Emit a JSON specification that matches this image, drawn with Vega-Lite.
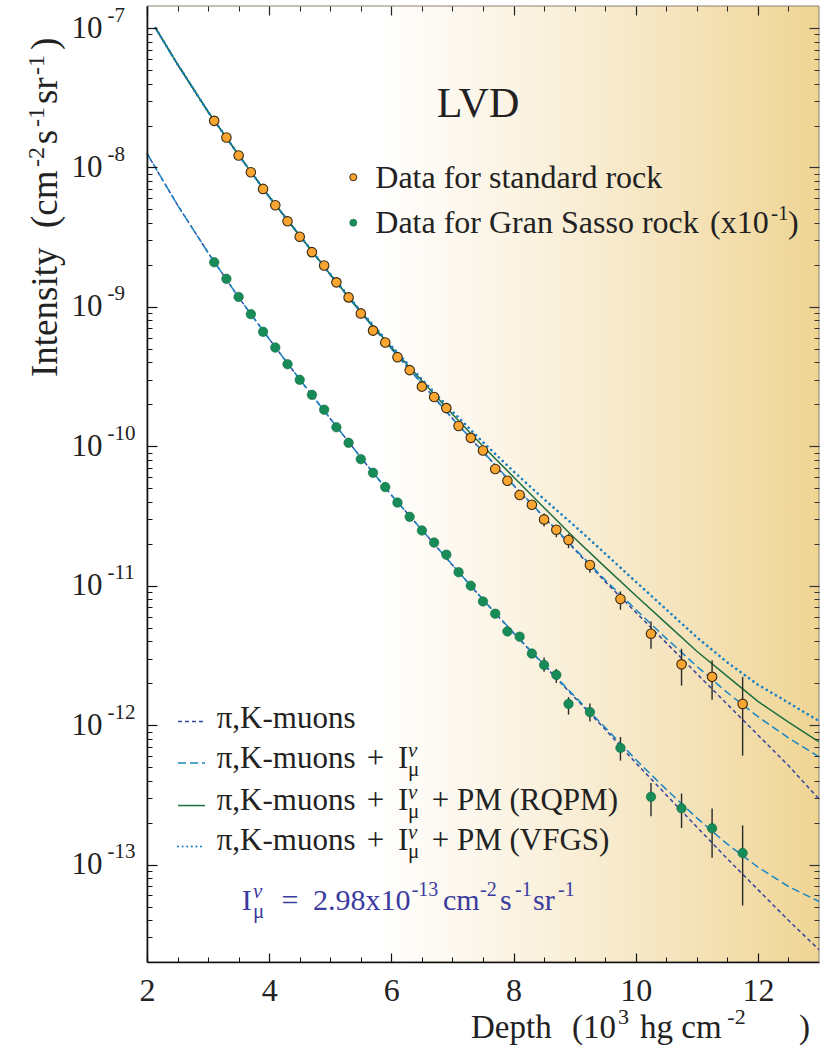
{
 "$schema": "https://vega.github.io/schema/vega-lite/v6.json",
 "width": 672, "height": 956,
 "autosize": {"type": "none"},
 "padding": {"left": 147, "top": 6, "right": 18, "bottom": 88},
 "background": "#ffffff",
 "config": {"view": {"stroke": null}, "font": "Liberation Serif", "text": {"font": "Liberation Serif", "color": "#222222", "align": "left", "baseline": "alphabetic", "fontSize": 31}, "axis": {"grid": false, "labelFont": "Liberation Serif", "titleFont": "Liberation Serif", "labelFlush": false, "labelOverlap": false, "labelBound": false}},
 "resolve": {"axis": {"x": "independent", "y": "independent"}},
 "datasets": {
  "points": [
   {"rock":"std","depth":3.1,"intensity":2.16e-8},{"rock":"std","depth":3.3,"intensity":1.64e-8},{"rock":"std","depth":3.5,"intensity":1.22e-8},{"rock":"std","depth":3.7,"intensity":9.25e-9},{"rock":"std","depth":3.9,"intensity":7.02e-9},{"rock":"std","depth":4.1,"intensity":5.36e-9},{"rock":"std","depth":4.3,"intensity":4.11e-9},{"rock":"std","depth":4.5,"intensity":3.19e-9},{"rock":"std","depth":4.7,"intensity":2.47e-9},{"rock":"std","depth":4.9,"intensity":1.98e-9},{"rock":"std","depth":5.1,"intensity":1.50e-9},{"rock":"std","depth":5.3,"intensity":1.17e-9},{"rock":"std","depth":5.5,"intensity":8.98e-10},{"rock":"std","depth":5.7,"intensity":6.76e-10},{"rock":"std","depth":5.9,"intensity":5.55e-10},{"rock":"std","depth":6.1,"intensity":4.36e-10},{"rock":"std","depth":6.3,"intensity":3.52e-10},{"rock":"std","depth":6.5,"intensity":2.68e-10},{"rock":"std","depth":6.7,"intensity":2.26e-10},{"rock":"std","depth":6.9,"intensity":1.88e-10},{"rock":"std","depth":7.1,"intensity":1.40e-10},{"rock":"std","depth":7.3,"intensity":1.15e-10},{"rock":"std","depth":7.5,"intensity":9.33e-11},{"rock":"std","depth":7.7,"intensity":6.87e-11},{"rock":"std","depth":7.9,"intensity":5.66e-11},{"rock":"std","depth":8.1,"intensity":4.47e-11},{"rock":"std","depth":8.3,"intensity":3.81e-11},
   {"rock":"std","depth":8.5,"intensity":2.99e-11,"lo":2.66e-11,"hi":3.30e-11},
   {"rock":"std","depth":8.7,"intensity":2.52e-11,"lo":2.23e-11,"hi":2.73e-11},
   {"rock":"std","depth":8.9,"intensity":2.13e-11,"lo":1.86e-11,"hi":2.36e-11},
   {"rock":"std","depth":9.25,"intensity":1.41e-11,"lo":1.24e-11,"hi":1.53e-11},
   {"rock":"std","depth":9.75,"intensity":8.03e-12,"lo":6.72e-12,"hi":9.10e-12},
   {"rock":"std","depth":10.25,"intensity":4.53e-12,"lo":3.53e-12,"hi":5.55e-12},
   {"rock":"std","depth":10.75,"intensity":2.73e-12,"lo":1.92e-12,"hi":3.53e-12},
   {"rock":"std","depth":11.25,"intensity":2.22e-12,"lo":1.52e-12,"hi":2.92e-12},
   {"rock":"std","depth":11.75,"intensity":1.42e-12,"lo":6.04e-13,"hi":2.22e-12},
   {"rock":"gs","depth":3.1,"intensity":2.09e-9},{"rock":"gs","depth":3.3,"intensity":1.59e-9},{"rock":"gs","depth":3.5,"intensity":1.18e-9},{"rock":"gs","depth":3.7,"intensity":8.87e-10},{"rock":"gs","depth":3.9,"intensity":6.63e-10},{"rock":"gs","depth":4.1,"intensity":5.11e-10},{"rock":"gs","depth":4.3,"intensity":3.88e-10},{"rock":"gs","depth":4.5,"intensity":3.00e-10},{"rock":"gs","depth":4.7,"intensity":2.34e-10},{"rock":"gs","depth":4.9,"intensity":1.83e-10},{"rock":"gs","depth":5.1,"intensity":1.37e-10},{"rock":"gs","depth":5.3,"intensity":1.06e-10},{"rock":"gs","depth":5.5,"intensity":8.09e-11},{"rock":"gs","depth":5.7,"intensity":6.46e-11},{"rock":"gs","depth":5.9,"intensity":5.10e-11},{"rock":"gs","depth":6.1,"intensity":3.95e-11},{"rock":"gs","depth":6.3,"intensity":3.12e-11},{"rock":"gs","depth":6.5,"intensity":2.49e-11},{"rock":"gs","depth":6.7,"intensity":2.04e-11},{"rock":"gs","depth":6.9,"intensity":1.67e-11},{"rock":"gs","depth":7.1,"intensity":1.25e-11},{"rock":"gs","depth":7.3,"intensity":1.00e-11},{"rock":"gs","depth":7.5,"intensity":7.71e-12},{"rock":"gs","depth":7.7,"intensity":6.30e-12},{"rock":"gs","depth":7.9,"intensity":4.70e-12},{"rock":"gs","depth":8.1,"intensity":4.31e-12},{"rock":"gs","depth":8.3,"intensity":3.26e-12},
   {"rock":"gs","depth":8.5,"intensity":2.70e-12,"lo":2.42e-12,"hi":3.05e-12},
   {"rock":"gs","depth":8.7,"intensity":2.29e-12,"lo":2.01e-12,"hi":2.53e-12},
   {"rock":"gs","depth":8.9,"intensity":1.42e-12,"lo":1.19e-12,"hi":1.59e-12},
   {"rock":"gs","depth":9.25,"intensity":1.24e-12,"lo":1.06e-12,"hi":1.43e-12},
   {"rock":"gs","depth":9.75,"intensity":6.87e-13,"lo":5.56e-13,"hi":8.22e-13},
   {"rock":"gs","depth":10.25,"intensity":3.06e-13,"lo":2.22e-13,"hi":3.85e-13},
   {"rock":"gs","depth":10.75,"intensity":2.53e-13,"lo":1.83e-13,"hi":3.23e-13},
   {"rock":"gs","depth":11.25,"intensity":1.82e-13,"lo":1.12e-13,"hi":2.52e-13},
   {"rock":"gs","depth":11.75,"intensity":1.21e-13,"lo":5.08e-14,"hi":1.91e-13}
  ],
  "curves": [
   {"model":"pk","rock":"std","depth":2.14,"intensity":1e-7},{"model":"pk","rock":"std","depth":2.5,"intensity":5.50e-8},{"model":"pk","rock":"std","depth":3.0,"intensity":2.51e-8},{"model":"pk","rock":"std","depth":3.5,"intensity":1.23e-8},{"model":"pk","rock":"std","depth":4.0,"intensity":6.17e-9},{"model":"pk","rock":"std","depth":4.5,"intensity":3.24e-9},{"model":"pk","rock":"std","depth":5.0,"intensity":1.70e-9},{"model":"pk","rock":"std","depth":5.5,"intensity":9.12e-10},{"model":"pk","rock":"std","depth":6.0,"intensity":5.01e-10},{"model":"pk","rock":"std","depth":6.5,"intensity":2.82e-10},{"model":"pk","rock":"std","depth":7.0,"intensity":1.58e-10},{"model":"pk","rock":"std","depth":7.5,"intensity":9.12e-11},{"model":"pk","rock":"std","depth":8.0,"intensity":5.25e-11},{"model":"pk","rock":"std","depth":8.5,"intensity":3.09e-11},{"model":"pk","rock":"std","depth":9.0,"intensity":1.82e-11},{"model":"pk","rock":"std","depth":9.5,"intensity":1.07e-11},{"model":"pk","rock":"std","depth":10.0,"intensity":6.46e-12},{"model":"pk","rock":"std","depth":10.5,"intensity":3.89e-12},{"model":"pk","rock":"std","depth":11.0,"intensity":2.34e-12},{"model":"pk","rock":"std","depth":11.5,"intensity":1.41e-12},{"model":"pk","rock":"std","depth":12.0,"intensity":8.51e-13},{"model":"pk","rock":"std","depth":12.5,"intensity":5.13e-13},{"model":"pk","rock":"std","depth":13.0,"intensity":2.95e-13},
   {"model":"pknu","rock":"std","depth":2.14,"intensity":1e-7},{"model":"pknu","rock":"std","depth":2.5,"intensity":5.50e-8},{"model":"pknu","rock":"std","depth":3.0,"intensity":2.51e-8},{"model":"pknu","rock":"std","depth":3.5,"intensity":1.23e-8},{"model":"pknu","rock":"std","depth":4.0,"intensity":6.17e-9},{"model":"pknu","rock":"std","depth":4.5,"intensity":3.24e-9},{"model":"pknu","rock":"std","depth":5.0,"intensity":1.70e-9},{"model":"pknu","rock":"std","depth":5.5,"intensity":9.12e-10},{"model":"pknu","rock":"std","depth":6.0,"intensity":5.01e-10},{"model":"pknu","rock":"std","depth":6.5,"intensity":2.82e-10},{"model":"pknu","rock":"std","depth":7.0,"intensity":1.58e-10},{"model":"pknu","rock":"std","depth":7.5,"intensity":9.15e-11},{"model":"pknu","rock":"std","depth":8.0,"intensity":5.28e-11},{"model":"pknu","rock":"std","depth":8.5,"intensity":3.12e-11},{"model":"pknu","rock":"std","depth":9.0,"intensity":1.85e-11},{"model":"pknu","rock":"std","depth":9.5,"intensity":1.10e-11},{"model":"pknu","rock":"std","depth":10.0,"intensity":6.76e-12},{"model":"pknu","rock":"std","depth":10.5,"intensity":4.19e-12},{"model":"pknu","rock":"std","depth":11.0,"intensity":2.64e-12},{"model":"pknu","rock":"std","depth":11.5,"intensity":1.71e-12},{"model":"pknu","rock":"std","depth":12.0,"intensity":1.15e-12},{"model":"pknu","rock":"std","depth":12.5,"intensity":8.11e-13},{"model":"pknu","rock":"std","depth":13.0,"intensity":5.93e-13},
   {"model":"rqpm","rock":"std","depth":2.14,"intensity":1e-7},{"model":"rqpm","rock":"std","depth":2.5,"intensity":5.50e-8},{"model":"rqpm","rock":"std","depth":3.0,"intensity":2.51e-8},{"model":"rqpm","rock":"std","depth":3.5,"intensity":1.23e-8},{"model":"rqpm","rock":"std","depth":4.0,"intensity":6.17e-9},{"model":"rqpm","rock":"std","depth":4.5,"intensity":3.25e-9},{"model":"rqpm","rock":"std","depth":5.0,"intensity":1.71e-9},{"model":"rqpm","rock":"std","depth":5.5,"intensity":9.23e-10},{"model":"rqpm","rock":"std","depth":6.0,"intensity":5.13e-10},{"model":"rqpm","rock":"std","depth":6.5,"intensity":2.95e-10},{"model":"rqpm","rock":"std","depth":7.0,"intensity":1.70e-10},{"model":"rqpm","rock":"std","depth":7.5,"intensity":1.00e-10},{"model":"rqpm","rock":"std","depth":8.0,"intensity":6.03e-11},{"model":"rqpm","rock":"std","depth":8.5,"intensity":3.63e-11},{"model":"rqpm","rock":"std","depth":9.0,"intensity":2.19e-11},{"model":"rqpm","rock":"std","depth":9.5,"intensity":1.36e-11},{"model":"rqpm","rock":"std","depth":10.0,"intensity":8.51e-12},{"model":"rqpm","rock":"std","depth":10.5,"intensity":5.37e-12},{"model":"rqpm","rock":"std","depth":11.0,"intensity":3.39e-12},{"model":"rqpm","rock":"std","depth":11.5,"intensity":2.24e-12},{"model":"rqpm","rock":"std","depth":12.0,"intensity":1.48e-12},{"model":"rqpm","rock":"std","depth":12.5,"intensity":1.05e-12},{"model":"rqpm","rock":"std","depth":13.0,"intensity":7.59e-13},
   {"model":"vfgs","rock":"std","depth":2.14,"intensity":1e-7},{"model":"vfgs","rock":"std","depth":2.5,"intensity":5.50e-8},{"model":"vfgs","rock":"std","depth":3.0,"intensity":2.51e-8},{"model":"vfgs","rock":"std","depth":3.5,"intensity":1.23e-8},{"model":"vfgs","rock":"std","depth":4.0,"intensity":6.17e-9},{"model":"vfgs","rock":"std","depth":4.5,"intensity":3.25e-9},{"model":"vfgs","rock":"std","depth":5.0,"intensity":1.72e-9},{"model":"vfgs","rock":"std","depth":5.5,"intensity":9.33e-10},{"model":"vfgs","rock":"std","depth":6.0,"intensity":5.25e-10},{"model":"vfgs","rock":"std","depth":6.5,"intensity":3.02e-10},{"model":"vfgs","rock":"std","depth":7.0,"intensity":1.78e-10},{"model":"vfgs","rock":"std","depth":7.5,"intensity":1.07e-10},{"model":"vfgs","rock":"std","depth":8.0,"intensity":6.61e-11},{"model":"vfgs","rock":"std","depth":8.5,"intensity":4.17e-11},{"model":"vfgs","rock":"std","depth":9.0,"intensity":2.69e-11},{"model":"vfgs","rock":"std","depth":9.5,"intensity":1.70e-11},{"model":"vfgs","rock":"std","depth":10.0,"intensity":1.07e-11},{"model":"vfgs","rock":"std","depth":10.5,"intensity":6.76e-12},{"model":"vfgs","rock":"std","depth":11.0,"intensity":4.27e-12},{"model":"vfgs","rock":"std","depth":11.5,"intensity":2.82e-12},{"model":"vfgs","rock":"std","depth":12.0,"intensity":1.95e-12},{"model":"vfgs","rock":"std","depth":12.5,"intensity":1.45e-12},{"model":"vfgs","rock":"std","depth":13.0,"intensity":1.07e-12},
   {"model":"pk","rock":"gs","depth":2.0,"intensity":1.26e-8},{"model":"pk","rock":"gs","depth":2.5,"intensity":5.37e-9},{"model":"pk","rock":"gs","depth":3.0,"intensity":2.45e-9},{"model":"pk","rock":"gs","depth":3.5,"intensity":1.17e-9},{"model":"pk","rock":"gs","depth":4.0,"intensity":5.89e-10},{"model":"pk","rock":"gs","depth":4.5,"intensity":3.02e-10},{"model":"pk","rock":"gs","depth":5.0,"intensity":1.58e-10},{"model":"pk","rock":"gs","depth":5.5,"intensity":8.32e-11},{"model":"pk","rock":"gs","depth":6.0,"intensity":4.47e-11},{"model":"pk","rock":"gs","depth":6.5,"intensity":2.51e-11},{"model":"pk","rock":"gs","depth":7.0,"intensity":1.41e-11},{"model":"pk","rock":"gs","depth":7.5,"intensity":7.94e-12},{"model":"pk","rock":"gs","depth":8.0,"intensity":4.57e-12},{"model":"pk","rock":"gs","depth":8.5,"intensity":2.69e-12},{"model":"pk","rock":"gs","depth":9.0,"intensity":1.58e-12},{"model":"pk","rock":"gs","depth":9.5,"intensity":9.33e-13},{"model":"pk","rock":"gs","depth":10.0,"intensity":5.37e-13},{"model":"pk","rock":"gs","depth":10.5,"intensity":3.16e-13},{"model":"pk","rock":"gs","depth":11.0,"intensity":1.86e-13},{"model":"pk","rock":"gs","depth":11.5,"intensity":1.10e-13},{"model":"pk","rock":"gs","depth":12.0,"intensity":6.61e-14},{"model":"pk","rock":"gs","depth":12.5,"intensity":3.98e-14},{"model":"pk","rock":"gs","depth":13.0,"intensity":2.45e-14},
   {"model":"pknu","rock":"gs","depth":2.0,"intensity":1.26e-8},{"model":"pknu","rock":"gs","depth":2.5,"intensity":5.37e-9},{"model":"pknu","rock":"gs","depth":3.0,"intensity":2.45e-9},{"model":"pknu","rock":"gs","depth":3.5,"intensity":1.17e-9},{"model":"pknu","rock":"gs","depth":4.0,"intensity":5.89e-10},{"model":"pknu","rock":"gs","depth":4.5,"intensity":3.02e-10},{"model":"pknu","rock":"gs","depth":5.0,"intensity":1.58e-10},{"model":"pknu","rock":"gs","depth":5.5,"intensity":8.32e-11},{"model":"pknu","rock":"gs","depth":6.0,"intensity":4.47e-11},{"model":"pknu","rock":"gs","depth":6.5,"intensity":2.51e-11},{"model":"pknu","rock":"gs","depth":7.0,"intensity":1.41e-11},{"model":"pknu","rock":"gs","depth":7.5,"intensity":7.96e-12},{"model":"pknu","rock":"gs","depth":8.0,"intensity":4.60e-12},{"model":"pknu","rock":"gs","depth":8.5,"intensity":2.72e-12},{"model":"pknu","rock":"gs","depth":9.0,"intensity":1.61e-12},{"model":"pknu","rock":"gs","depth":9.5,"intensity":9.63e-13},{"model":"pknu","rock":"gs","depth":10.0,"intensity":5.67e-13},{"model":"pknu","rock":"gs","depth":10.5,"intensity":3.46e-13},{"model":"pknu","rock":"gs","depth":11.0,"intensity":2.16e-13},{"model":"pknu","rock":"gs","depth":11.5,"intensity":1.40e-13},{"model":"pknu","rock":"gs","depth":12.0,"intensity":9.59e-14},{"model":"pknu","rock":"gs","depth":12.5,"intensity":6.96e-14},{"model":"pknu","rock":"gs","depth":13.0,"intensity":5.43e-14}
  ]
 },
 "layer": [
  {"data": {"values": [{}]},
   "mark": {"type": "rect", "stroke": "#8a8070", "strokeWidth": 1, "fill": {"gradient": "linear", "x1": 0, "y1": 0, "x2": 1, "y2": 0, "stops": [{"offset": 0, "color": "#ffffff"}, {"offset": 0.34, "color": "#ffffff"}, {"offset": 0.56, "color": "#fbf3e2"}, {"offset": 0.78, "color": "#f5e4be"}, {"offset": 1, "color": "#efd594"}]}},
   "encoding": {
    "x": {"datum": 2, "type": "quantitative", "scale": {"domain": [2, 13], "nice": false, "zero": false},
      "axis": {"orient": "bottom", "zindex": 2, "values": [2, 4, 6, 8, 10, 12], "format": "d", "ticks": false, "domain": true, "domainColor": "#111111", "domainWidth": 1.6, "labelFontSize": 32, "labelColor": "#222222", "labelPadding": 13, "title": null}},
    "x2": {"datum": 13},
    "y": {"datum": 2e-14, "type": "quantitative", "scale": {"type": "log", "domain": [2e-14, 1.44e-7], "nice": false},
      "axis": {"orient": "left", "zindex": 2, "values": [1e-13, 1e-12, 1e-11, 1e-10, 1e-9, 1e-8, 1e-7], "labelExpr": "'10'", "ticks": false, "domain": true, "domainColor": "#111111", "domainWidth": 1.6, "labelFontSize": 31, "labelColor": "#222222", "labelPadding": 45, "labelAlign": "right", "labelBaseline": "middle", "title": null}},
    "y2": {"datum": 1.44e-7}
   }},
  {"data": {"name": "curves"}, "transform": [{"filter": "datum.model == 'pk'"}],
   "mark": {"type": "line", "stroke": "#34469f", "strokeWidth": 1.5, "strokeDash": [4, 3]},
   "encoding": {
    "x": {"field": "depth", "type": "quantitative", "scale": {"domain": [2, 13], "nice": false, "zero": false},
      "axis": {"orient": "bottom", "zindex": 2, "offset": -9, "values": [2, 4, 6, 8, 10, 12], "labels": false, "domain": false, "ticks": true, "tickSize": 9, "tickColor": "#111111", "tickWidth": 1.2, "title": null}},
    "y": {"field": "intensity", "type": "quantitative", "scale": {"type": "log", "domain": [2e-14, 1.44e-7], "nice": false},
      "axis": {"orient": "left", "zindex": 2, "offset": -10, "values": [1e-13, 1e-12, 1e-11, 1e-10, 1e-9, 1e-8, 1e-7], "labels": false, "domain": false, "ticks": true, "tickSize": 10, "tickColor": "#111111", "tickWidth": 1.2, "title": null}},
    "detail": {"field": "rock"}
   }},
  {"data": {"name": "curves"}, "transform": [{"filter": "datum.model == 'pknu'"}],
   "mark": {"type": "line", "stroke": "#1b86c2", "strokeWidth": 1.5, "strokeDash": [8, 4]},
   "encoding": {
    "x": {"field": "depth", "type": "quantitative", "scale": {"domain": [2, 13], "nice": false, "zero": false},
      "axis": {"orient": "bottom", "zindex": 2, "offset": -5, "values": [2.5, 3, 3.5, 4.5, 5, 5.5, 6.5, 7, 7.5, 8.5, 9, 9.5, 10.5, 11, 11.5, 12.5], "labels": false, "domain": false, "ticks": true, "tickSize": 5, "tickColor": "#111111", "tickWidth": 1, "title": null}},
    "y": {"field": "intensity", "type": "quantitative", "scale": {"type": "log", "domain": [2e-14, 1.44e-7], "nice": false},
      "axis": {"orient": "left", "zindex": 2, "offset": -5, "values": [3e-14, 4e-14, 5e-14, 6e-14, 7e-14, 8e-14, 9e-14, 2e-13, 3e-13, 4e-13, 5e-13, 6e-13, 7e-13, 8e-13, 9e-13, 2e-12, 3e-12, 4e-12, 5e-12, 6e-12, 7e-12, 8e-12, 9e-12, 2e-11, 3e-11, 4e-11, 5e-11, 6e-11, 7e-11, 8e-11, 9e-11, 2e-10, 3e-10, 4e-10, 5e-10, 6e-10, 7e-10, 8e-10, 9e-10, 2e-9, 3e-9, 4e-9, 5e-9, 6e-9, 7e-9, 8e-9, 9e-9, 2e-8, 3e-8, 4e-8, 5e-8, 6e-8, 7e-8, 8e-8, 9e-8], "labels": false, "domain": false, "ticks": true, "tickSize": 5, "tickColor": "#111111", "tickWidth": 1, "title": null}},
    "detail": {"field": "rock"}
   }},
  {"data": {"name": "curves"}, "transform": [{"filter": "datum.model == 'rqpm'"}],
   "mark": {"type": "line", "stroke": "#1d6e3e", "strokeWidth": 1.5},
   "encoding": {
    "x": {"field": "depth", "type": "quantitative", "scale": {"domain": [2, 13], "nice": false, "zero": false},
      "axis": {"orient": "top", "zindex": 2, "offset": -9, "values": [2, 4, 6, 8, 10, 12], "labels": false, "domain": false, "ticks": true, "tickSize": 9, "tickColor": "#222222", "tickWidth": 1.2, "title": null}},
    "y": {"field": "intensity", "type": "quantitative", "scale": {"type": "log", "domain": [2e-14, 1.44e-7], "nice": false},
      "axis": {"orient": "right", "zindex": 2, "offset": -10, "values": [1e-13, 1e-12, 1e-11, 1e-10, 1e-9, 1e-8, 1e-7], "labels": false, "domain": false, "ticks": true, "tickSize": 10, "tickColor": "#333333", "tickWidth": 1.2, "title": null}},
    "detail": {"field": "rock"}
   }},
  {"data": {"name": "curves"}, "transform": [{"filter": "datum.model == 'vfgs'"}],
   "mark": {"type": "line", "stroke": "#1a80c2", "strokeWidth": 2.6, "strokeDash": [0.1, 5.2], "strokeCap": "round"},
   "encoding": {
    "x": {"field": "depth", "type": "quantitative", "scale": {"domain": [2, 13], "nice": false, "zero": false},
      "axis": {"orient": "top", "zindex": 2, "offset": -5, "values": [2.5, 3, 3.5, 4.5, 5, 5.5, 6.5, 7, 7.5, 8.5, 9, 9.5, 10.5, 11, 11.5, 12.5], "labels": false, "domain": false, "ticks": true, "tickSize": 5, "tickColor": "#222222", "tickWidth": 1, "title": null}},
    "y": {"field": "intensity", "type": "quantitative", "scale": {"type": "log", "domain": [2e-14, 1.44e-7], "nice": false},
      "axis": {"orient": "right", "zindex": 2, "offset": -5, "values": [3e-14, 4e-14, 5e-14, 6e-14, 7e-14, 8e-14, 9e-14, 2e-13, 3e-13, 4e-13, 5e-13, 6e-13, 7e-13, 8e-13, 9e-13, 2e-12, 3e-12, 4e-12, 5e-12, 6e-12, 7e-12, 8e-12, 9e-12, 2e-11, 3e-11, 4e-11, 5e-11, 6e-11, 7e-11, 8e-11, 9e-11, 2e-10, 3e-10, 4e-10, 5e-10, 6e-10, 7e-10, 8e-10, 9e-10, 2e-9, 3e-9, 4e-9, 5e-9, 6e-9, 7e-9, 8e-9, 9e-9, 2e-8, 3e-8, 4e-8, 5e-8, 6e-8, 7e-8, 8e-8, 9e-8], "labels": false, "domain": false, "ticks": true, "tickSize": 5, "tickColor": "#333333", "tickWidth": 1, "title": null}},
    "detail": {"field": "rock"}
   }},
  {"data": {"name": "points"}, "transform": [{"filter": "isValid(datum.lo)"}],
   "mark": {"type": "rule", "color": "#2a2a2a", "strokeWidth": 1.4},
   "encoding": {
    "x": {"field": "depth", "type": "quantitative", "scale": {"domain": [2, 13], "nice": false, "zero": false}, "axis": null},
    "y": {"field": "lo", "type": "quantitative", "scale": {"type": "log", "domain": [2e-14, 1.44e-7], "nice": false},
      "axis": {"orient": "left", "zindex": 2, "values": [1e-13, 1e-12, 1e-11, 1e-10, 1e-9, 1e-8, 1e-7], "labelExpr": "'-' + (-round(log(datum.value) / LN10))", "ticks": false, "domain": false, "labelFontSize": 21, "labelColor": "#222222", "labelAlign": "left", "labelBaseline": "middle", "labelPadding": 40, "labelOffset": -13, "title": null}},
    "y2": {"field": "hi"}
   }},
  {"data": {"name": "points"}, "transform": [{"filter": "datum.rock == 'std'"}],
   "mark": {"type": "circle", "fill": "#f8a631", "stroke": "#3b2a12", "strokeWidth": 1.1, "size": 90, "opacity": 1},
   "encoding": {
    "x": {"field": "depth", "type": "quantitative", "scale": {"domain": [2, 13], "nice": false, "zero": false}, "axis": null},
    "y": {"field": "intensity", "type": "quantitative", "scale": {"type": "log", "domain": [2e-14, 1.44e-7], "nice": false}, "axis": null}
   }},
  {"data": {"name": "points"}, "transform": [{"filter": "datum.rock == 'gs'"}],
   "mark": {"type": "circle", "fill": "#178c59", "stroke": "#11683f", "strokeWidth": 0.6, "size": 90, "opacity": 1},
   "encoding": {
    "x": {"field": "depth", "type": "quantitative", "scale": {"domain": [2, 13], "nice": false, "zero": false}, "axis": null},
    "y": {"field": "intensity", "type": "quantitative", "scale": {"type": "log", "domain": [2e-14, 1.44e-7], "nice": false}, "axis": null}
   }},
  {"data": {"values": [{}]}, "mark": {"type": "text", "text": "LVD", "fontSize": 42, "align": "center"},
   "encoding": {"x": {"datum": 7.418, "type": "quantitative", "axis": null}, "y": {"datum": 2.30e-8, "type": "quantitative", "axis": null}}},
  {"data": {"values": [{}]}, "mark": {"type": "circle", "fill": "#f8a631", "stroke": "#3b2a12", "strokeWidth": 1, "size": 50, "opacity": 1},
   "encoding": {"x": {"datum": 5.377, "type": "quantitative", "axis": null}, "y": {"datum": 8.51e-9, "type": "quantitative", "axis": null}}},
  {"data": {"values": [{}]}, "mark": {"type": "circle", "fill": "#178c59", "stroke": "#11683f", "strokeWidth": 0.6, "size": 50, "opacity": 1},
   "encoding": {"x": {"datum": 5.377, "type": "quantitative", "axis": null}, "y": {"datum": 4.02e-9, "type": "quantitative", "axis": null}}},
  {"data": {"values": [{}]}, "mark": {"type": "text", "text": "Data for standard rock", "fontSize": 32},
   "encoding": {"x": {"datum": 5.737, "type": "quantitative", "axis": null}, "y": {"datum": 7.10e-9, "type": "quantitative", "axis": null}}},
  {"data": {"values": [{}]}, "mark": {"type": "text", "text": "Data for Gran Sasso rock", "fontSize": 32},
   "encoding": {"x": {"datum": 5.737, "type": "quantitative", "axis": null}, "y": {"datum": 3.37e-9, "type": "quantitative", "axis": null}}},
  {"data": {"values": [{}]}, "mark": {"type": "text", "text": "(x10", "fontSize": 32},
   "encoding": {"x": {"datum": 11.216, "type": "quantitative", "axis": null}, "y": {"datum": 3.37e-9, "type": "quantitative", "axis": null}}},
  {"data": {"values": [{}]}, "mark": {"type": "text", "text": "-1", "fontSize": 21, "dy": -13},
   "encoding": {"x": {"datum": 12.214, "type": "quantitative", "axis": null}, "y": {"datum": 3.37e-9, "type": "quantitative", "axis": null}}},
  {"data": {"values": [{}]}, "mark": {"type": "text", "text": ")", "fontSize": 32},
   "encoding": {"x": {"datum": 12.493, "type": "quantitative", "axis": null}, "y": {"datum": 3.37e-9, "type": "quantitative", "axis": null}}},
  {"data": {"values": [{}]}, "mark": {"type": "rule", "stroke": "#34469f", "strokeWidth": 1.5, "strokeDash": [4, 3]},
   "encoding": {"x": {"datum": 2.507, "type": "quantitative", "axis": null}, "x2": {"datum": 2.949}, "y": {"datum": 1.06e-12, "type": "quantitative", "axis": null}}},
  {"data": {"values": [{}]}, "mark": {"type": "rule", "stroke": "#1b86c2", "strokeWidth": 1.5, "strokeDash": [8, 4]},
   "encoding": {"x": {"datum": 2.507, "type": "quantitative", "axis": null}, "x2": {"datum": 2.949}, "y": {"datum": 5.36e-13, "type": "quantitative", "axis": null}}},
  {"data": {"values": [{}]}, "mark": {"type": "rule", "stroke": "#1d6e3e", "strokeWidth": 1.5},
   "encoding": {"x": {"datum": 2.507, "type": "quantitative", "axis": null}, "x2": {"datum": 2.949}, "y": {"datum": 2.65e-13, "type": "quantitative", "axis": null}}},
  {"data": {"values": [{}]}, "mark": {"type": "rule", "stroke": "#1a80c2", "strokeWidth": 2, "strokeDash": [0.1, 4.5], "strokeCap": "round"},
   "encoding": {"x": {"datum": 2.507, "type": "quantitative", "axis": null}, "x2": {"datum": 2.949}, "y": {"datum": 1.35e-13, "type": "quantitative", "axis": null}}},
  {"data": {"values": [{}]}, "mark": {"type": "text", "text": "π,K-muons"},
   "encoding": {"x": {"datum": 3.141, "type": "quantitative", "axis": null}, "y": {"datum": 9.55e-13, "type": "quantitative", "axis": null}}},
  {"data": {"values": [{}]}, "mark": {"type": "text", "text": "π,K-muons"},
   "encoding": {"x": {"datum": 3.141, "type": "quantitative", "axis": null}, "y": {"datum": 4.93e-13, "type": "quantitative", "axis": null}}},
  {"data": {"values": [{}]}, "mark": {"type": "text", "text": "π,K-muons"},
   "encoding": {"x": {"datum": 3.141, "type": "quantitative", "axis": null}, "y": {"datum": 2.48e-13, "type": "quantitative", "axis": null}}},
  {"data": {"values": [{}]}, "mark": {"type": "text", "text": "π,K-muons"},
   "encoding": {"x": {"datum": 3.141, "type": "quantitative", "axis": null}, "y": {"datum": 1.27e-13, "type": "quantitative", "axis": null}}},
  {"data": {"values": [{}]}, "mark": {"type": "text", "text": "+"},
   "encoding": {"x": {"datum": 5.596, "type": "quantitative", "axis": null}, "y": {"datum": 4.93e-13, "type": "quantitative", "axis": null}}},
  {"data": {"values": [{}]}, "mark": {"type": "text", "text": "+"},
   "encoding": {"x": {"datum": 5.596, "type": "quantitative", "axis": null}, "y": {"datum": 2.48e-13, "type": "quantitative", "axis": null}}},
  {"data": {"values": [{}]}, "mark": {"type": "text", "text": "+"},
   "encoding": {"x": {"datum": 5.596, "type": "quantitative", "axis": null}, "y": {"datum": 1.27e-13, "type": "quantitative", "axis": null}}},
  {"data": {"values": [{}]}, "mark": {"type": "text", "text": "I"},
   "encoding": {"x": {"datum": 6.109, "type": "quantitative", "axis": null}, "y": {"datum": 4.93e-13, "type": "quantitative", "axis": null}}},
  {"data": {"values": [{}]}, "mark": {"type": "text", "text": "I"},
   "encoding": {"x": {"datum": 6.109, "type": "quantitative", "axis": null}, "y": {"datum": 2.48e-13, "type": "quantitative", "axis": null}}},
  {"data": {"values": [{}]}, "mark": {"type": "text", "text": "I"},
   "encoding": {"x": {"datum": 6.109, "type": "quantitative", "axis": null}, "y": {"datum": 1.27e-13, "type": "quantitative", "axis": null}}},
  {"data": {"values": [{}]}, "mark": {"type": "text", "text": "ν", "fontSize": 21, "fontStyle": "italic", "dy": -11},
   "encoding": {"x": {"datum": 6.272, "type": "quantitative", "axis": null}, "y": {"datum": 4.93e-13, "type": "quantitative", "axis": null}}},
  {"data": {"values": [{}]}, "mark": {"type": "text", "text": "ν", "fontSize": 21, "fontStyle": "italic", "dy": -11},
   "encoding": {"x": {"datum": 6.272, "type": "quantitative", "axis": null}, "y": {"datum": 2.48e-13, "type": "quantitative", "axis": null}}},
  {"data": {"values": [{}]}, "mark": {"type": "text", "text": "ν", "fontSize": 21, "fontStyle": "italic", "dy": -11},
   "encoding": {"x": {"datum": 6.272, "type": "quantitative", "axis": null}, "y": {"datum": 1.27e-13, "type": "quantitative", "axis": null}}},
  {"data": {"values": [{}]}, "mark": {"type": "text", "text": "μ", "fontSize": 21, "dy": 8},
   "encoding": {"x": {"datum": 6.272, "type": "quantitative", "axis": null}, "y": {"datum": 4.93e-13, "type": "quantitative", "axis": null}}},
  {"data": {"values": [{}]}, "mark": {"type": "text", "text": "μ", "fontSize": 21, "dy": 8},
   "encoding": {"x": {"datum": 6.272, "type": "quantitative", "axis": null}, "y": {"datum": 2.48e-13, "type": "quantitative", "axis": null}}},
  {"data": {"values": [{}]}, "mark": {"type": "text", "text": "μ", "fontSize": 21, "dy": 8},
   "encoding": {"x": {"datum": 6.272, "type": "quantitative", "axis": null}, "y": {"datum": 1.27e-13, "type": "quantitative", "axis": null}}},
  {"data": {"values": [{}]}, "mark": {"type": "text", "text": "+ PM (RQPM)"},
   "encoding": {"x": {"datum": 6.66, "type": "quantitative", "axis": null}, "y": {"datum": 2.48e-13, "type": "quantitative", "axis": null}}},
  {"data": {"values": [{}]}, "mark": {"type": "text", "text": "+ PM (VFGS)"},
   "encoding": {"x": {"datum": 6.66, "type": "quantitative", "axis": null}, "y": {"datum": 1.27e-13, "type": "quantitative", "axis": null}}},
  {"data": {"values": [{}]}, "mark": {"type": "text", "text": "I", "fontSize": 30, "color": "#3b3ba0"},
   "encoding": {"x": {"datum": 3.55, "type": "quantitative", "axis": null}, "y": {"datum": 4.75e-14, "type": "quantitative", "axis": null}}},
  {"data": {"values": [{}]}, "mark": {"type": "text", "text": "ν", "fontSize": 21, "fontStyle": "italic", "dy": -12, "color": "#3b3ba0"},
   "encoding": {"x": {"datum": 3.735, "type": "quantitative", "axis": null}, "y": {"datum": 4.75e-14, "type": "quantitative", "axis": null}}},
  {"data": {"values": [{}]}, "mark": {"type": "text", "text": "μ", "fontSize": 21, "dy": 8, "color": "#3b3ba0"},
   "encoding": {"x": {"datum": 3.735, "type": "quantitative", "axis": null}, "y": {"datum": 4.75e-14, "type": "quantitative", "axis": null}}},
  {"data": {"values": [{}]}, "mark": {"type": "text", "text": "=", "fontSize": 30, "color": "#3b3ba0"},
   "encoding": {"x": {"datum": 4.202, "type": "quantitative", "axis": null}, "y": {"datum": 4.75e-14, "type": "quantitative", "axis": null}}},
  {"data": {"values": [{}]}, "mark": {"type": "text", "text": "2.98x10", "fontSize": 30, "color": "#3b3ba0"},
   "encoding": {"x": {"datum": 4.717, "type": "quantitative", "axis": null}, "y": {"datum": 4.75e-14, "type": "quantitative", "axis": null}}},
  {"data": {"values": [{}]}, "mark": {"type": "text", "text": "-13", "fontSize": 20, "dy": -14, "color": "#3b3ba0"},
   "encoding": {"x": {"datum": 6.333, "type": "quantitative", "axis": null}, "y": {"datum": 4.75e-14, "type": "quantitative", "axis": null}}},
  {"data": {"values": [{}]}, "mark": {"type": "text", "text": "cm", "fontSize": 30, "color": "#3b3ba0"},
   "encoding": {"x": {"datum": 6.845, "type": "quantitative", "axis": null}, "y": {"datum": 4.75e-14, "type": "quantitative", "axis": null}}},
  {"data": {"values": [{}]}, "mark": {"type": "text", "text": "-2", "fontSize": 20, "dy": -14, "color": "#3b3ba0"},
   "encoding": {"x": {"datum": 7.451, "type": "quantitative", "axis": null}, "y": {"datum": 4.75e-14, "type": "quantitative", "axis": null}}},
  {"data": {"values": [{}]}, "mark": {"type": "text", "text": "s", "fontSize": 30, "color": "#3b3ba0"},
   "encoding": {"x": {"datum": 7.778, "type": "quantitative", "axis": null}, "y": {"datum": 4.75e-14, "type": "quantitative", "axis": null}}},
  {"data": {"values": [{}]}, "mark": {"type": "text", "text": "-1", "fontSize": 20, "dy": -14, "color": "#3b3ba0"},
   "encoding": {"x": {"datum": 8.024, "type": "quantitative", "axis": null}, "y": {"datum": 4.75e-14, "type": "quantitative", "axis": null}}},
  {"data": {"values": [{}]}, "mark": {"type": "text", "text": "sr", "fontSize": 30, "color": "#3b3ba0"},
   "encoding": {"x": {"datum": 8.319, "type": "quantitative", "axis": null}, "y": {"datum": 4.75e-14, "type": "quantitative", "axis": null}}},
  {"data": {"values": [{}]}, "mark": {"type": "text", "text": "-1", "fontSize": 20, "dy": -14, "color": "#3b3ba0"},
   "encoding": {"x": {"datum": 8.728, "type": "quantitative", "axis": null}, "y": {"datum": 4.75e-14, "type": "quantitative", "axis": null}}},
  {"data": {"values": [{}]}, "mark": {"type": "text", "text": "Depth", "fontSize": 33},
   "encoding": {"x": {"datum": 7.304, "type": "quantitative", "axis": null}, "y": {"datum": 5.70e-15, "type": "quantitative", "axis": null}}},
  {"data": {"values": [{}]}, "mark": {"type": "text", "text": "(10", "fontSize": 33},
   "encoding": {"x": {"datum": 8.957, "type": "quantitative", "axis": null}, "y": {"datum": 5.70e-15, "type": "quantitative", "axis": null}}},
  {"data": {"values": [{}]}, "mark": {"type": "text", "text": "3", "fontSize": 22, "dy": -14},
   "encoding": {"x": {"datum": 9.71, "type": "quantitative", "axis": null}, "y": {"datum": 5.70e-15, "type": "quantitative", "axis": null}}},
  {"data": {"values": [{}]}, "mark": {"type": "text", "text": "hg cm", "fontSize": 33},
   "encoding": {"x": {"datum": 10.07, "type": "quantitative", "axis": null}, "y": {"datum": 5.70e-15, "type": "quantitative", "axis": null}}},
  {"data": {"values": [{}]}, "mark": {"type": "text", "text": "-2", "fontSize": 22, "dy": -14},
   "encoding": {"x": {"datum": 11.5, "type": "quantitative", "axis": null}, "y": {"datum": 5.70e-15, "type": "quantitative", "axis": null}}},
  {"data": {"values": [{}]}, "mark": {"type": "text", "text": ")", "fontSize": 33},
   "encoding": {"x": {"datum": 12.673, "type": "quantitative", "axis": null}, "y": {"datum": 5.70e-15, "type": "quantitative", "axis": null}}},
  {"data": {"values": [{}]}, "mark": {"type": "text", "text": "Intensity", "fontSize": 37, "angle": 270},
   "encoding": {"x": {"datum": 0.527, "type": "quantitative", "axis": null}, "y": {"datum": 3.14e-10, "type": "quantitative", "axis": null}}},
  {"data": {"values": [{}]}, "mark": {"type": "text", "text": "(cm", "fontSize": 37, "angle": 270},
   "encoding": {"x": {"datum": 0.527, "type": "quantitative", "axis": null}, "y": {"datum": 3.68e-9, "type": "quantitative", "axis": null}}},
  {"data": {"values": [{}]}, "mark": {"type": "text", "text": "-2", "fontSize": 24, "angle": 270},
   "encoding": {"x": {"datum": 0.314, "type": "quantitative", "axis": null}, "y": {"datum": 1.007e-8, "type": "quantitative", "axis": null}}},
  {"data": {"values": [{}]}, "mark": {"type": "text", "text": "s", "fontSize": 37, "angle": 270},
   "encoding": {"x": {"datum": 0.527, "type": "quantitative", "axis": null}, "y": {"datum": 1.47e-8, "type": "quantitative", "axis": null}}},
  {"data": {"values": [{}]}, "mark": {"type": "text", "text": "-1", "fontSize": 24, "angle": 270},
   "encoding": {"x": {"datum": 0.314, "type": "quantitative", "axis": null}, "y": {"datum": 1.95e-8, "type": "quantitative", "axis": null}}},
  {"data": {"values": [{}]}, "mark": {"type": "text", "text": "sr", "fontSize": 37, "angle": 270},
   "encoding": {"x": {"datum": 0.527, "type": "quantitative", "axis": null}, "y": {"datum": 2.85e-8, "type": "quantitative", "axis": null}}},
  {"data": {"values": [{}]}, "mark": {"type": "text", "text": "-1", "fontSize": 24, "angle": 270},
   "encoding": {"x": {"datum": 0.314, "type": "quantitative", "axis": null}, "y": {"datum": 4.60e-8, "type": "quantitative", "axis": null}}},
  {"data": {"values": [{}]}, "mark": {"type": "text", "text": ")", "fontSize": 37, "angle": 270},
   "encoding": {"x": {"datum": 0.527, "type": "quantitative", "axis": null}, "y": {"datum": 6.95e-8, "type": "quantitative", "axis": null}}}
 ]
}
